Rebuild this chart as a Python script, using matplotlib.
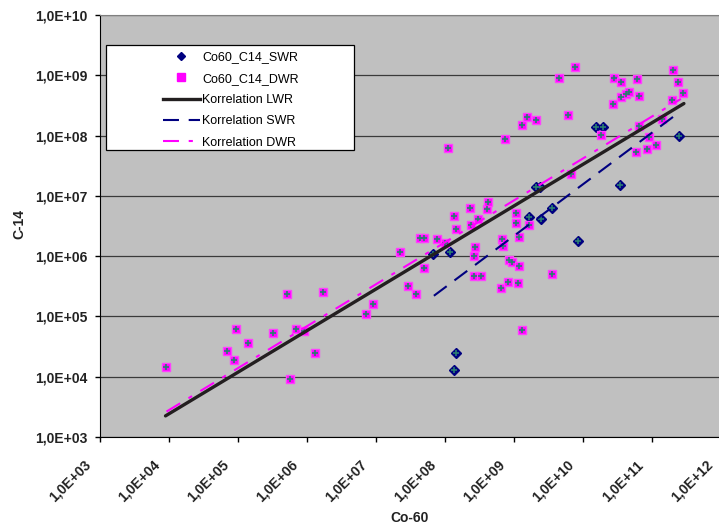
import numpy as np
import matplotlib
matplotlib.use("Agg")
import matplotlib.pyplot as plt
import matplotlib.transforms as mtransforms
from matplotlib.patches import Rectangle
from matplotlib.ticker import FixedLocator, FuncFormatter, NullLocator, NullFormatter
from matplotlib.lines import Line2D

plt.rcParams['font.family'] = ['Liberation Sans', 'DejaVu Sans']
plt.rcParams['lines.scale_dashes'] = False

# Co-60 / C-14 pairs
swr_co60 = [1.2e8, 1.44e8, 1.36e8, 6.8e7, 1.67e9, 2.5e9, 3.5e9, 2.07e9, 2.4e9,
            8.4e9, 3.4e10, 1.53e10, 1.92e10, 2.5e11]
swr_c14 = [1.19e6, 2.5e4, 1.29e4, 1.09e6, 4.5e6, 4.1e6, 6.3e6, 1.41e7, 1.41e7,
           1.8e6, 1.5e7, 1.39e8, 1.39e8, 1.0e8]

dwr_co60 = [9.0e3, 6.9e4, 8.7e4, 9.4e4, 1.4e5, 3.2e5, 5.2e5, 5.6e5, 6.9e5, 9.0e5,
            1.29e6, 1.71e6, 7.2e6, 9.1e6, 2.2e7, 2.9e7, 3.8e7, 4.3e7, 4.9e7, 5.0e7,
            7.6e7, 1.0e8, 1.09e8, 1.36e8, 1.42e8, 2.3e8, 2.4e8, 2.6e8, 2.6e8, 2.7e8,
            3.0e8, 3.3e8, 4.1e8, 4.2e8, 6.4e8, 6.6e8, 6.9e8, 7.4e8, 8.2e8, 8.4e8,
            9.2e8, 1.06e9, 1.08e9, 1.16e9, 1.17e9, 1.2e9, 1.29e9, 1.29e9, 1.55e9, 1.64e9,
            2.1e9, 3.5e9, 4.5e9, 6.0e9, 6.8e9, 7.6e9, 1.82e10, 2.7e10, 2.8e10, 3.5e10,
            3.6e10, 4.2e10, 4.6e10, 5.8e10, 6.0e10, 6.5e10, 6.5e10, 8.4e10, 9.1e10, 1.14e11,
            1.38e11, 1.96e11, 2.0e11, 2.4e11, 2.8e11]
dwr_c14 = [1.46e4, 2.7e4, 1.86e4, 6.2e4, 3.6e4, 5.4e4, 2.4e5, 9.0e3, 6.2e4, 5.8e4,
           2.5e4, 2.5e5, 1.1e5, 1.6e5, 1.19e6, 3.2e5, 2.4e5, 2.0e6, 2.0e6, 6.3e5,
           1.9e6, 1.64e6, 6.2e7, 4.6e6, 2.8e6, 6.3e6, 3.3e6, 1.01e6, 4.7e5, 1.41e6,
           4.2e6, 4.7e5, 6.0e6, 7.9e6, 3.0e5, 1.9e6, 1.48e6, 8.9e7, 3.7e5, 8.7e5,
           8.0e5, 5.2e6, 3.6e6, 3.6e5, 2.1e6, 6.8e5, 1.49e8, 6.0e4, 2.0e8, 3.3e6,
           1.82e8, 5.1e5, 8.9e8, 2.2e8, 2.3e7, 1.39e9, 1.01e8, 3.4e8, 9.1e8, 4.3e8,
           7.7e8, 4.9e8, 5.3e8, 5.3e7, 8.6e8, 4.5e8, 1.45e8, 5.9e7, 9.4e7, 7.0e7,
           1.87e8, 3.9e8, 1.21e9, 7.8e8, 5.1e8]

# correlation lines (end points)
lwr_fit_x = [8.9e3, 2.9e11]
lwr_fit_y = [2.24e3, 3.4e8]
swr_fit_x = [6.9e7, 2.56e11]
swr_fit_y = [2.2e5, 2.5e8]
dwr_fit_x = [9.2e3, 2.62e11]
dwr_fit_y = [2.64e3, 4.05e8]

decades = [10.0 ** k for k in range(3, 13)]

W, H = 719, 527
fig = plt.figure(figsize=(W / 100, H / 100), dpi=100)
ax = fig.add_axes([100 / W, 1 - 437 / H, 621 / W, 422 / H])
ax.set_facecolor('#C0C0C0')
ax.set_xscale('log')
ax.set_yscale('log')
ax.set_xlim(1e3, 1e12)
ax.set_ylim(1e3, 1e10)

teal = '#2a7d70'
ax.plot(swr_co60, swr_c14, ls='none', marker='D', ms=5, mfc='#000080', mec='#000080', zorder=3)
ax.plot(dwr_co60, dwr_c14, ls='none', marker='s', ms=5.8, mfc='#FF00FF', mec='#FF40FF', zorder=3)
ax.plot(swr_co60 + dwr_co60, swr_c14 + dwr_c14, ls='none', marker='+', ms=5, mew=1.2,
        color=teal, zorder=4)

ax.plot(lwr_fit_x, lwr_fit_y, color='#231f20', lw=2.4, zorder=5, solid_capstyle='round')
ax.plot(swr_fit_x, swr_fit_y, color='#000080', lw=1.5, dashes=(11.5, 7), zorder=5)
ax.plot(dwr_fit_x, dwr_fit_y, color='#FF00FF', lw=1.5, dashes=(11.5, 7, 3, 7), zorder=5)

# axes styling
ax.spines['right'].set_visible(False)
ax.spines['top'].set_color('#808080')
ax.spines['left'].set_color('black')
ax.spines['bottom'].set_color('black')
ax.yaxis.grid(True, color='#3a3a3a', lw=0.9)
ax.set_axisbelow(True)

def sci_label(v):
    return '1,0E+%02d' % int(round(np.log10(v)))

ax.xaxis.set_major_locator(FixedLocator(decades))
ax.yaxis.set_major_locator(FixedLocator(decades[:8]))
ax.xaxis.set_minor_locator(NullLocator())
ax.yaxis.set_minor_locator(NullLocator())
ax.xaxis.set_major_formatter(NullFormatter())
ax.yaxis.set_major_formatter(FuncFormatter(lambda v, p: sci_label(v)))
ax.tick_params(direction='out', length=3.6, width=1, labelsize=10)
ax.tick_params(axis='y', pad=5.5)
for lab in ax.get_yticklabels():
    lab.set_fontweight('bold')
    lab.set_color('#222222')

# rotated x tick labels, placed by hand
xlab_tr = mtransforms.blended_transform_factory(ax.transData, ax.transAxes) + \
    mtransforms.ScaledTranslation(-0.11, -0.255, fig.dpi_scale_trans)
for d in decades:
    ax.text(d, 0, sci_label(d), transform=xlab_tr, rotation=45, ha='right', va='center',
            rotation_mode='anchor', fontsize=10, fontweight='bold', color='#222222',
            clip_on=False)

fig.text(19 / W, 1 - 224 / H, 'C-14', rotation=90, ha='center', va='center',
         fontsize=10, fontweight='bold', color='#222222')
fig.text(410 / W, 1 - 518 / H, 'Co-60', ha='center', va='center',
         fontsize=10, fontweight='bold', color='#222222')

# legend box
fig.add_artist(Rectangle((106 / W, 1 - 150 / H), 248 / W, 105 / H, transform=fig.transFigure,
                         facecolor='white', edgecolor='black', lw=0.9, zorder=6))
handles = [
    Line2D([], [], ls='none', marker='D', ms=4.5, mfc='#000080', mec='#000080'),
    Line2D([], [], ls='none', marker='s', ms=5.6, mfc='#FF00FF', mec='#FF00FF'),
    Line2D([], [], color='#231f20', lw=2.4),
    Line2D([], [], color='#000080', lw=1.5, dashes=(11.5, 7)),
    Line2D([], [], color='#FF00FF', lw=1.5, dashes=(11.5, 7, 3, 7)),
]
labels = ['Co60_C14_SWR', 'Co60_C14_DWR', 'Korrelation LWR', 'Korrelation SWR', 'Korrelation DWR']
leg = fig.legend(handles, labels, loc='center', bbox_to_anchor=(231 / W, 1 - 100 / H),
                 frameon=False, fontsize=9, handlelength=2.9, handletextpad=0.2,
                 labelspacing=0.74, borderpad=0)
leg.set_zorder(7)

fig.savefig('out.png', dpi=100)
